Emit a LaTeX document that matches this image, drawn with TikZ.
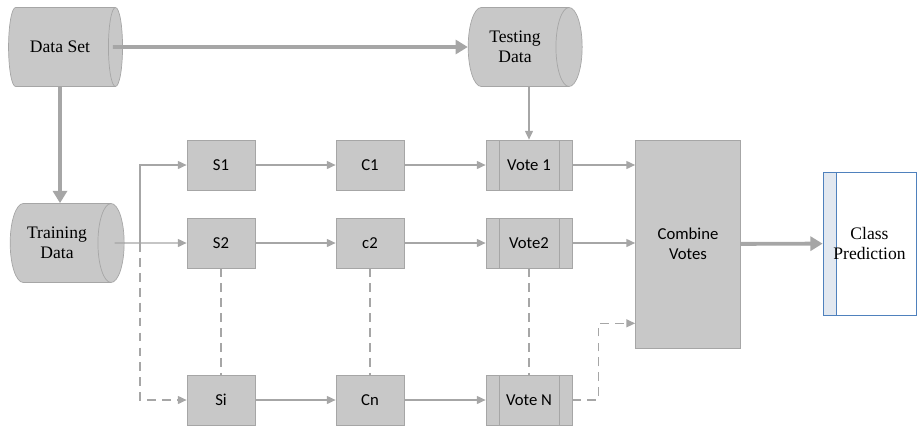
\documentclass[tikz,border=0pt]{standalone}
\usepackage{fontspec}
\setmainfont{Liberation Serif}
\newfontfamily\boxfont{Carlito}
\usetikzlibrary{shapes.geometric,arrows.meta}

\definecolor{boxgray}{HTML}{C8C8C8}
\definecolor{linegray}{HTML}{A6A6A6}
\definecolor{edgeblue}{HTML}{4F81BD}
\definecolor{paleblue}{HTML}{E2E8F0}

\tikzset{
	db/.style={cylinder, draw=linegray, fill=boxgray, aspect=0.6, minimum width=1.58cm, minimum height=2.28cm, align=center, font=\fontsize{10}{11.5}\selectfont},
	blk/.style={draw=linegray, fill=boxgray, minimum width=1.36cm, minimum height=1cm, align=center, font=\boxfont\fontsize{9.5}{11.5}\selectfont},
	vote/.style={blk, minimum width=1.72cm, path picture={
		\draw[linegray] ([xshift=0.26cm]path picture bounding box.north west) -- ([xshift=0.26cm]path picture bounding box.south west);
		\draw[linegray] ([xshift=-0.26cm]path picture bounding box.north east) -- ([xshift=-0.26cm]path picture bounding box.south east);}},
	pred/.style={draw=edgeblue, fill=white, minimum width=1.86cm, minimum height=2.86cm, align=center, font=\fontsize{10}{11.5}\selectfont, path picture={
		\fill[paleblue] (path picture bounding box.north west) rectangle ([xshift=0.26cm]path picture bounding box.south west);
		\draw[edgeblue] ([xshift=0.26cm]path picture bounding box.north west) -- ([xshift=0.26cm]path picture bounding box.south west);}},
	flow/.style={draw=linegray, line width=0.8pt, -{Triangle[length=5pt,width=4.5pt]}},
	main/.style={draw=linegray, line width=2.2pt, -{Triangle[length=7pt,width=8pt]}},
	gap/.style={dash pattern=on 5pt off 3.5pt}
}

\begin{document}
\begin{tikzpicture}[x=0.02cm,y=-0.02cm]
	\useasboundingbox (0,0) rectangle (917,430);

	%data stores
	\node[db] (data)  at (60,47)   {Data Set};
	\node[db] (test)  at (515,47)  {Testing\\Data};
	\node[db] (train) at (57,243)  {Training\\Data};

	%subsets
	\node[blk] (s1) at (221,165) {S1};
	\node[blk] (s2) at (221,243) {S2};
	\node[blk] (si) at (221,400) {Si};

	%classifiers
	\node[blk] (c1) at (370,165) {C1};
	\node[blk] (c2) at (370,243) {c2};
	\node[blk] (cn) at (370,400) {Cn};

	%votes
	\node[vote] (v1) at (529,165) {Vote 1};
	\node[vote] (v2) at (529,243) {Vote2};
	\node[vote] (vn) at (529,400) {Vote N};

	\node[blk, minimum width=2.1cm, minimum height=4.16cm] (comb) at (688,244) {Combine\\Votes};
	\node[pred] (cls) at (869.5,243.5) {Class\\Prediction};

	%main flow
	\draw[main] ([xshift=-0.2cm]data.east) -- (test.west);
	\draw[main] (data.south) -- (data.south |- train.north);
	\draw[main] (comb) -- (cls);

	%split of the training data
	\coordinate (fork) at (140,243);
	\draw[flow] ([xshift=-0.2cm]train.east) -- (s2.west);
	\draw[flow] (fork) |- (s1.west);
	\draw[flow,gap] (fork) |- (si.west);

	%rows
	\foreach \a/\b in {s1/c1,c1/v1,s2/c2,c2/v2,si/cn,cn/vn}
		\draw[flow] (\a) -- (\b);
	\foreach \a/\b in {s2/si,c2/cn,v2/vn}
		\draw[draw=linegray,line width=0.8pt,gap] (\a) -- (\b);

	%into the vote boxes and the combiner
	\draw[flow] (test.south -| v1) -- (v1);
	\draw[flow] (v1) -- (v1 -| comb.west);
	\draw[flow] (v2) -- (v2 -| comb.west);
	\draw[flow,gap] (vn.east) -- ++(26,0) |- ([yshift=0.5cm]comb.south west);
\end{tikzpicture}
\end{document}
